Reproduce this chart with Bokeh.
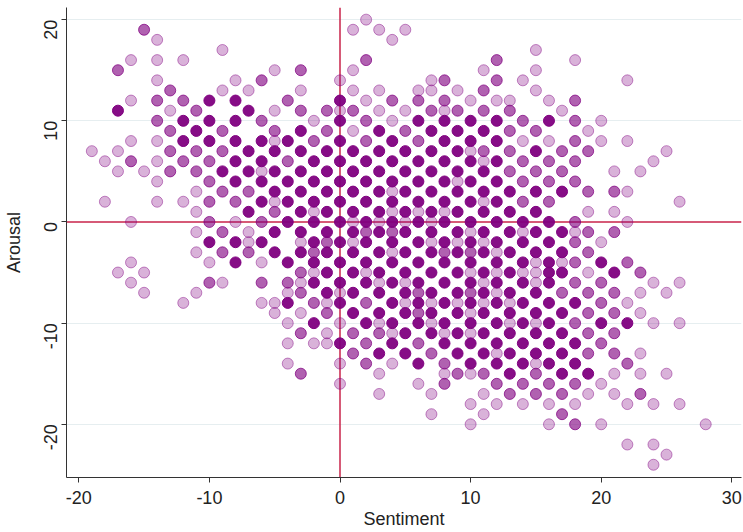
import math
from bokeh.plotting import figure
from bokeh.models import Span, ColumnDataSource, FixedTicker
from bokeh.embed import file_html
from bokeh.resources import INLINE

# For each Arousal value, "Sentiment:shade" pairs.
# shade 1 = single (light) marker, 2 = a few overlapping (medium), 3 = many overlapping (dark)
points_by_arousal = {
    20: "2:1",
    19: "-15:2 1:1 3:1 5:1",
    18: "-14:1 4:1",
    17: "-9:1 15:1",
    16: "-16:1 -14:1 -12:1 2:2 12:2 18:1",
    15: "-17:2 -5:1 -3:2 1:1 11:1 15:1",
    14: "-14:1 -8:1 -6:2 0:1 7:1 8:2 12:2 14:1 22:1",
    13: "-13:2 -9:1 -7:1 -3:1 1:1 3:1 6:1 7:1 9:1 11:2 15:1",
    12: "-16:1 -14:2 -12:2 -10:3 -8:3 -4:2 0:3 2:1 4:2 6:2 8:2 10:1 12:1 13:1 16:1 18:2",
    11: "-17:3 -13:1 -11:2 -7:3 -5:1 -3:2 -1:2 0:1 1:2 3:1 5:1 7:2 8:1 9:2 11:2 13:2 17:1",
    10: "-14:2 -12:3 -10:3 -8:3 -6:2 -2:1 0:3 2:2 4:1 6:3 8:3 10:3 12:3 14:2 16:3 18:2 20:1",
    9: "-13:2 -11:3 -9:2 -5:2 -3:3 -1:2 1:1 3:3 5:2 7:3 9:3 11:3 13:2 15:2 19:1",
    8: "-16:1 -14:1 -12:3 -10:3 -8:3 -6:3 -5:1 -4:3 -2:2 0:3 2:2 4:3 6:2 8:3 10:3 12:3 14:1 16:1 18:2 20:1 22:1",
    7: "-19:1 -17:1 -13:2 -11:2 -9:2 -7:3 -5:3 -3:3 -1:3 1:3 3:3 5:3 7:3 9:3 10:1 11:2 13:2 15:3 17:2 19:2 25:1",
    6: "-18:1 -16:2 -14:1 -12:2 -10:2 -8:3 -6:3 -4:2 -2:3 0:3 2:3 4:3 6:3 8:3 10:3 11:1 12:3 14:2 16:2 18:2 24:1",
    5: "-17:1 -15:1 -13:2 -11:2 -9:3 -7:3 -6:1 -5:3 -3:3 -1:3 1:3 3:3 5:3 7:3 9:3 11:3 13:2 15:2 17:2 21:1 23:1",
    4: "-14:1 -10:2 -8:3 -6:3 -4:3 -2:3 0:3 2:3 4:3 6:3 8:3 9:1 10:3 12:3 14:2 16:2 18:2",
    3: "-11:1 -9:2 -7:2 -5:3 -3:3 -1:3 1:3 3:3 4:1 5:3 7:3 9:3 11:3 13:3 15:3 17:3 19:2 21:2 22:1",
    2: "-18:1 -14:1 -12:1 -10:2 -8:2 -6:3 -5:1 -4:3 -2:3 0:3 2:3 4:3 6:3 8:3 10:3 11:1 12:3 14:2 16:2 26:1",
    1: "-11:1 -7:3 -5:2 -3:3 -2:1 -1:3 1:3 3:3 4:1 5:3 6:1 7:3 8:1 9:3 11:3 13:3 15:3 19:1 21:1",
    0: "-16:1 -10:2 -8:1 -6:2 -4:3 -2:3 0:3 1:1 2:3 3:1 4:3 5:1 6:3 7:1 8:3 10:3 12:3 14:3 16:3 18:2 22:1",
    -1: "-11:1 -9:2 -7:1 -5:3 -3:3 -1:3 1:3 2:2 3:3 4:2 5:3 7:3 9:3 10:1 11:3 13:3 14:1 15:3 17:3 18:1 19:2 21:2",
    -2: "-10:3 -8:3 -7:1 -6:3 -3:1 -2:3 -1:2 0:3 1:1 2:3 4:3 6:3 7:1 8:3 9:1 10:3 11:1 12:3 14:3 16:3 18:2 20:1",
    -3: "-11:1 -9:2 -7:2 -5:3 -3:3 -2:2 -1:3 1:3 3:3 4:1 5:3 7:3 8:2 9:3 10:2 11:3 12:1 13:3 15:3 17:3 19:2",
    -4: "-16:1 -10:1 -8:3 -6:1 -4:3 -2:3 0:3 2:3 4:3 6:3 8:3 10:3 12:3 14:3 15:1 16:3 17:1 18:2 20:3 22:2",
    -5: "-17:1 -15:1 -3:2 -2:1 -1:3 1:3 2:1 3:3 5:3 7:3 9:3 10:1 11:3 12:1 13:3 14:1 15:1 16:3 17:3 19:1 21:3 23:2",
    -6: "-16:1 -10:2 -9:1 -6:2 -4:2 -3:1 -2:3 0:3 2:3 3:1 4:3 5:1 6:3 8:3 10:3 11:1 12:3 14:3 15:1 16:3 18:2 20:2 24:1 26:1",
    -7: "-15:1 -11:1 -4:1 -3:2 -1:3 0:1 1:3 3:3 5:3 6:2 7:3 9:3 10:2 11:3 12:1 13:3 15:3 17:2 19:2 21:2 23:1 25:1",
    -8: "-12:1 -6:1 -5:1 -4:3 -2:2 -1:1 0:3 2:2 4:3 5:1 6:3 7:1 8:3 9:1 10:3 11:1 12:3 13:1 14:3 16:3 18:3 20:2 22:1",
    -9: "-5:1 -3:1 -1:2 1:3 3:3 5:3 6:2 7:3 9:3 10:1 11:3 13:3 15:3 17:3 19:2 21:2 23:1",
    -10: "-4:1 -2:3 0:1 2:3 3:1 4:3 6:3 7:1 8:3 10:3 12:3 13:1 14:3 15:1 16:3 18:2 20:3 22:3 24:1 26:1",
    -11: "-3:2 -1:1 1:2 3:2 4:1 5:3 7:3 8:1 9:3 10:1 11:3 13:3 15:3 17:3 19:2 21:2",
    -12: "-4:1 -2:1 -1:1 0:3 2:2 4:3 6:2 8:3 10:3 12:3 14:3 16:3 18:3 20:2",
    -13: "1:2 3:3 5:3 7:2 9:3 11:3 12:1 13:3 15:3 17:3 19:2 21:2 23:1",
    -14: "-4:1 0:1 2:2 4:1 6:3 8:2 10:3 12:3 14:3 15:1 16:3 18:3 22:2",
    -15: "-3:2 3:1 8:1 9:2 10:1 11:2 13:3 15:2 17:3 19:3 21:1 23:1 25:1",
    -16: "0:1 6:1 8:2 12:2 14:2 16:2 18:2 20:1",
    -17: "3:1 7:1 11:1 13:2 15:2 17:2 19:1 21:1 23:2",
    -18: "10:1 12:1 14:1 16:1 18:1 22:1 24:1 26:1",
    -19: "7:1 11:1 17:2",
    -20: "10:1 16:1 18:2 20:1 28:1",
    -22: "22:1 24:1",
    -23: "25:1",
    -24: "24:1",
}

x_ticks = [-20, -10, 0, 10, 20, 30]
y_ticks = [-20, -10, 0, 10, 20]

sentiment, arousal, shade = [], [], []
for a, row in points_by_arousal.items():
    for tok in row.split():
        s, lv = tok.split(":")
        sentiment.append(int(s))
        arousal.append(a)
        shade.append(int(lv))

p = figure(width=743, height=532, output_backend="svg", toolbar_location=None,
           x_range=(-20.94, 30.74), y_range=(-25.26, 21.2),
           min_border_left=64, min_border_right=2, min_border_top=7, min_border_bottom=55)
p.outline_line_color = None
p.background_fill_color = "white"
p.border_fill_color = "white"

p.xgrid.visible = False
p.ygrid.ticker = FixedTicker(ticks=[-20, -10, 10, 20])
p.ygrid.grid_line_color = "#e6eef0"
p.ygrid.grid_line_width = 1

for ln in (Span(location=0, dimension="height"), Span(location=0, dimension="width")):
    ln.line_color = "#c8234a"
    ln.line_width = 1.5
    ln.level = "underlay"
    p.add_layout(ln)

alphas = {1: (0.30, 0.45), 2: (0.62, 0.75), 3: (0.95, 1.0)}
for lv, (fa, la) in alphas.items():
    idx = [i for i, v in enumerate(shade) if v == lv]
    src = ColumnDataSource(dict(x=[sentiment[i] for i in idx], y=[arousal[i] for i in idx]))
    p.scatter("x", "y", source=src, marker="circle", size=11,
              fill_color="#800080", fill_alpha=fa,
              line_color="#800080", line_alpha=la, line_width=1)

font = "Liberation Sans"
for ax in (p.xaxis[0], p.yaxis[0]):
    ax.axis_line_color = "#333333"
    ax.major_tick_line_color = "#333333"
    ax.minor_tick_line_color = None
    ax.major_tick_out = 5
    ax.major_tick_in = 0
    ax.major_label_text_font = font
    ax.major_label_text_font_size = "18px"
    ax.major_label_text_color = "#222222"
    ax.axis_label_text_font = font
    ax.axis_label_text_font_size = "18px"
    ax.axis_label_text_font_style = "normal"
    ax.axis_label_text_color = "#222222"

p.xaxis.ticker = FixedTicker(ticks=x_ticks)
p.yaxis.ticker = FixedTicker(ticks=y_ticks)
p.xaxis.major_label_overrides = {t: str(t) for t in x_ticks}
p.yaxis.major_label_overrides = {t: str(t) for t in y_ticks}
p.xaxis.axis_label = "Sentiment"
p.yaxis.axis_label = "Arousal"
p.yaxis.major_label_orientation = math.pi / 2
p.xaxis.major_label_standoff = 8
p.xaxis.axis_label_standoff = 2
p.yaxis.major_label_standoff = 11
p.yaxis.axis_label_standoff = 11

open("out.html", "w").write(file_html(p, INLINE))
